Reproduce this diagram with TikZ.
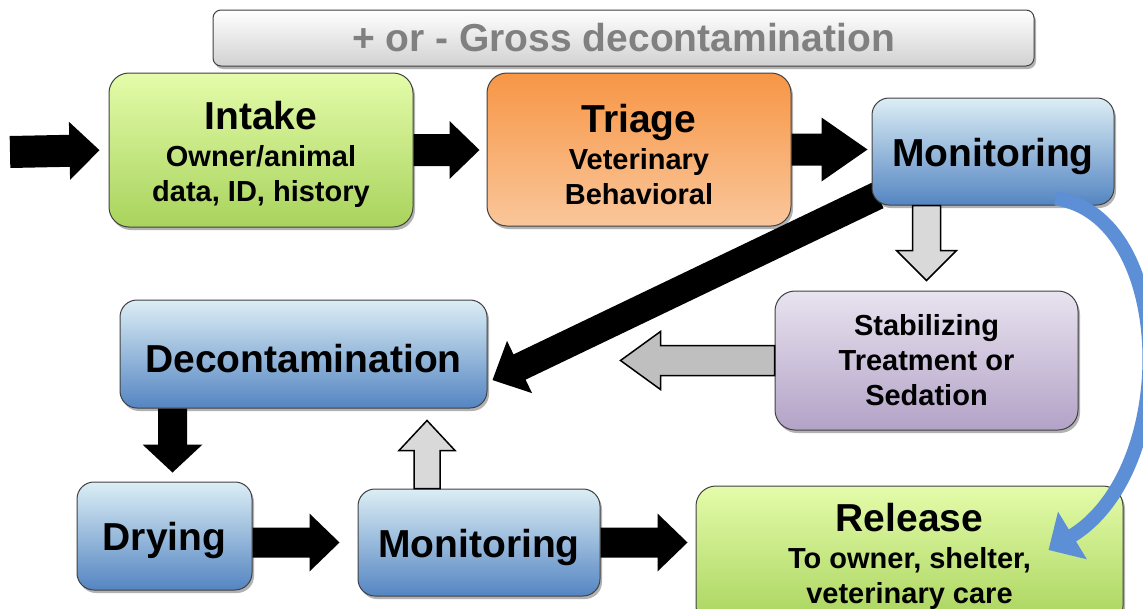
\documentclass[tikz,border=0pt]{standalone}
\usepackage{fontspec}
\setmainfont{Liberation Sans}
\usepackage{tikz}
\usetikzlibrary{positioning,calc,shadows,backgrounds,arrows.meta}
\definecolor{edge}{HTML}{404040}
\definecolor{greentop}{HTML}{E4FCAA}
\definecolor{greenbot}{HTML}{A8D35C}
\definecolor{orangetop}{HTML}{F79646}
\definecolor{orangebot}{HTML}{FAC69A}
\definecolor{bluetop}{HTML}{DCEEF5}
\definecolor{bluemid}{HTML}{B4D0E6}
\definecolor{bluebot}{HTML}{5485C2}
\definecolor{lilactop}{HTML}{E8E3EF}
\definecolor{lilacbot}{HTML}{B3A2C7}
\definecolor{greytext}{HTML}{808080}
\definecolor{lightgrey}{HTML}{D9D9D9}
\definecolor{midgrey}{HTML}{BFBFBF}
\definecolor{curveblue}{HTML}{5C8FD6}
\newcommand{\boxtitle}{\fontsize{39}{40}\selectfont}
\newcommand{\boxsub}{\fontsize{29}{35}\selectfont}
\newcommand{\heading}[1]{{\boxtitle\rule{0pt}{38pt}#1}}

\tikzset{
  ba shaft/.store in=\bashaft, ba head/.store in=\bahead,
  ba len/.store in=\balen, ba gap/.store in=\bagap,
  ba shaft=15pt, ba head=29pt, ba len=30pt, ba gap=0pt,
  blockarrow/.style={to path={
      ($(\tikztotarget)!{\bagap+\balen}!(\tikztostart)$) coordinate (bah)
      ($(\tikztotarget)!\bagap!(\tikztostart)$) coordinate (bat)
      ($(\tikztostart)!\bashaft!90:(\tikztotarget)$)
      -- ($(bah)!\bashaft!-90:(\tikztostart)$)
      -- ($(bah)!\bahead!-90:(\tikztostart)$)
      -- (bat)
      -- ($(bah)!\bahead!90:(\tikztostart)$)
      -- ($(bah)!\bashaft!90:(\tikztostart)$)
      -- ($(\tikztostart)!\bashaft!-90:(\tikztotarget)$)
      -- cycle}},
}

\begin{document}
\begin{tikzpicture}[x=1pt, y=-1pt,
    stepbox/.style={rectangle, rounded corners=20pt, draw=edge,
      line width=1pt, inner sep=0pt, align=center,
      font=\bfseries\boxsub,
      drop shadow={shadow xshift=2pt, shadow yshift=-3pt,
        opacity=0.3, fill=black}},
    greenbox/.style={stepbox, top color=greentop, bottom color=greenbot},
    orangebox/.style={stepbox, top color=orangetop,
      bottom color=orangebot},
    bluebox/.style={stepbox, rounded corners=17pt, top color=bluetop,
      middle color=bluemid, bottom color=bluebot},
    lilacbox/.style={stepbox, top color=lilactop, bottom color=lilacbot},
    blackarrow/.style={blockarrow, fill=black, draw=none},
    greyarrow/.style={blockarrow, draw=black, line width=1.5pt,
      line join=miter},
  ]
  \useasboundingbox (0,0) rectangle (1143,608);

  % banner on top
  \node[stepbox, rounded corners=8pt, top color=white,
    bottom color=black!18, minimum width=821, minimum height=56,
    text=greytext, font=\bfseries\boxtitle] (gross) at (623.5,38)
    {+ or - Gross decontamination};

  % first row
  \node[greenbox, minimum width=304, minimum height=154] (intake)
    at (261,150) {\heading{Intake}\\[2pt] Owner/animal\\ data, ID, history};
  \node[orangebox, minimum width=304, minimum height=153] (triage)
    at (639,149.5) {\heading{Triage}\\[2pt] Veterinary\\ Behavioral};
  \node[bluebox, minimum width=242, minimum height=107] (mon1)
    at (993,151.5) {\heading{Monitoring}};

  % middle row
  \node[lilacbox, minimum width=303, minimum height=139] (stab)
    at (926.5,360.5) {Stabilizing\\ Treatment or\\ Sedation};
  \node[bluebox, minimum width=367, minimum height=108] (decon)
    at (303.5,354) {\heading{Decontamination}};

  % bottom row
  \node[bluebox, minimum width=175, minimum height=108] (drying)
    at (164.5,536) {\heading{Drying}};
  \node[bluebox, minimum width=242, minimum height=107] (mon2)
    at (479,542.5) {\heading{Monitoring}};
  \node[greenbox, minimum width=427, minimum height=140] (release)
    at (909.5,556) {{\boxtitle Release}\\[2pt] To owner, shelter,\\
    veterinary care};

  % black flow arrows
  \coordinate (entry) at (10,152);
  \draw[blackarrow, ba shaft=16pt, ba gap=9pt] (entry) to (intake.west);
  \draw[blackarrow, ba shaft=16pt, ba gap=7pt] (intake.east)
    to (intake.east -| triage.west);
  \draw[blackarrow, ba shaft=16pt, ba head=32pt, ba len=46pt,
    ba gap=4pt] (triage.east) to (triage.east -| mon1.west);
  \begin{scope}[on background layer]
    \draw[blackarrow, ba shaft=14pt, ba head=29pt, ba len=30pt]
      ([shift={(6,-10)}]mon1.south west) to ([shift={(5,26)}]decon.east);
  \end{scope}
  \coordinate (dryfoot) at ([xshift=8pt]drying.north);
  \draw[blackarrow, ba shaft=14.5pt, ba head=30pt, ba len=28pt,
    ba gap=9pt] (dryfoot |- decon.south) to (dryfoot);
  \draw[blackarrow, ba gap=18pt] (drying.east |- mon2.west) to (mon2.west);
  \draw[blackarrow, ba gap=8pt] (mon2.east) to (mon2.east -| release.west);

  % grey arrows
  \coordinate (downfoot) at (stab.north |- mon1.south);
  \draw[greyarrow, fill=lightgrey, ba shaft=14pt, ba head=30pt,
    ba gap=10pt] (downfoot) to (stab.north);
  \draw[greyarrow, fill=midgrey, ba shaft=15pt, ba head=29pt, ba len=40pt,
    ba gap=133pt] (stab.west) to (stab.west -| decon.east);
  \coordinate (upfoot) at ([xshift=-52pt]mon2.north);
  \draw[greyarrow, fill=lightgrey, ba shaft=13pt, ba head=28pt,
    ba gap=12pt] (upfoot) to (upfoot |- decon.south);

  % curved arrow to release
  \draw[curveblue, line width=14pt,
    -{Triangle[length=28pt, width=54pt]}]
    ([shift={(-59,-7)}]mon1.south east) .. controls +(120,17)
    and +(132,-80) .. ([shift={(-75,-6)}]release.east);
\end{tikzpicture}
\end{document}
